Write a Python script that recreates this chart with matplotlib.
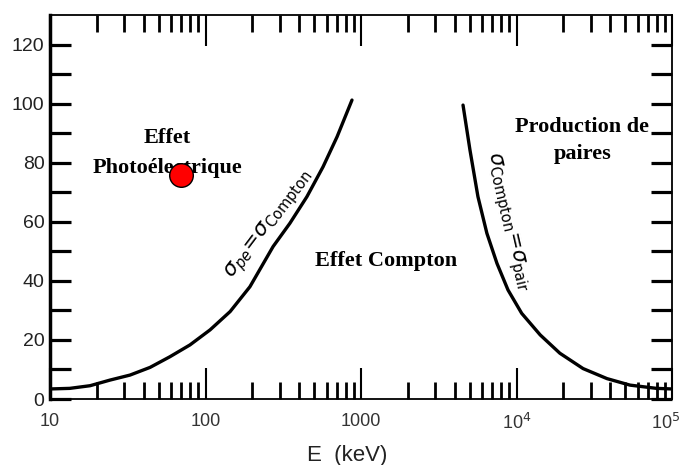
import matplotlib.pyplot as plt
import matplotlib.transforms as mtransforms
from matplotlib.ticker import FixedLocator, LogLocator, NullFormatter

# frontière photoélectrique / Compton
E_pe = [10, 13.4, 18.1, 24.3, 32.7, 44, 59, 79.4, 107, 144, 193,
        272, 349, 449, 570, 702, 875]
y_pe = [3.4, 3.6, 4.5, 6.4, 8.1, 10.7, 14.3, 18.3, 23.4, 29.6, 38,
        51.6, 59.5, 68.5, 78.6, 88.8, 101.2]

# frontière Compton / paires
E_pair = [4530, 5020, 5650, 6450, 7490, 8820, 10800, 14200, 19000,
          26800, 38200, 53700, 79500, 100000]
y_pair = [99.5, 84.3, 68.5, 56.1, 45.9, 36.9, 29, 21.7, 15.5,
          10.3, 6.9, 4.7, 3.6, 3.4]

x_ticks = [10, 100, 1000, 1e4, 1e5]
x_labels = ["10", "100", "1000", r"10$^4$", r"10$^5$"]
y_ticks = [0, 20, 40, 60, 80, 100, 120]

point_E, point_y = 70, 76

fig = plt.figure(figsize=(6.85, 4.65), dpi=100)
ax = fig.add_axes([50 / 685, 66 / 465, 622 / 685, 384 / 465])

ax.plot(E_pe, y_pe, color="black", lw=2.4, solid_capstyle="round",
        solid_joinstyle="round")
ax.plot(E_pair, y_pair, color="black", lw=2.4, solid_capstyle="round",
        solid_joinstyle="round")
ax.plot([point_E], [point_y], "o", ms=17, mfc="red", mec="black", mew=1, zorder=5)

ax.set_xscale("log")
ax.set_xlim(10, 1e5)
ax.set_ylim(0, 130)

ax.set_xticks(x_ticks)
ax.set_xticklabels(x_labels, fontsize=13, family="Liberation Sans", color="#333333")
ax.xaxis.set_minor_locator(LogLocator(base=10, subs=range(2, 10)))
ax.xaxis.set_minor_formatter(NullFormatter())
ax.set_yticks(y_ticks)
ax.set_yticklabels([str(v) for v in y_ticks], fontsize=14, family="Liberation Sans",
                   color="#222222")
ax.yaxis.set_minor_locator(FixedLocator(list(range(10, 130, 20))))

ax.tick_params(axis="x", which="major", direction="in", length=22, width=1.5,
               top=True, bottom=True, pad=10)
ax.tick_params(axis="x", which="minor", direction="in", length=12, width=2,
               top=True, bottom=True)
ax.tick_params(axis="y", which="both", direction="in", length=15, width=2.3,
               left=True, right=True, pad=4)

# décale un peu le dernier label pour qu'il reste dans l'image
last = ax.get_xticklabels()[-1]
shift = mtransforms.ScaledTranslation(-6 / 100, 0, fig.dpi_scale_trans)
last.set_transform(last.get_transform() + shift)

ax.spines["left"].set_linewidth(2.5)
for s in ["bottom", "top", "right"]:
    ax.spines[s].set_linewidth(1.3)

fig.text(347 / 685, 1 - 455 / 465, "E  (keV)", ha="center", va="center",
         fontsize=16, family="Liberation Sans", color="#222222")

serif = dict(family="Liberation Serif", fontweight="bold", fontsize=16,
             ha="center", va="center")
ax.text(57, 88.4, "Effet", **serif)
ax.text(57, 78.2, "Photoélectrique", **serif)
ax.text(1450, 46.7, "Effet Compton", **serif)
ax.text(26500, 92, "Production de", **serif)
ax.text(26500, 83, "paires", **serif)

ax.text(257, 59, r"$\sigma_{pe}\!=\!\sigma_{\mathrm{Compton}}$", rotation=53,
        ha="center", va="center", fontsize=15, family="Liberation Sans",
        rotation_mode="anchor")
ax.text(8700, 60, r"$\sigma_{\mathrm{Compton}}\!=\!\sigma_{\mathrm{pair}}$", rotation=-77,
        ha="center", va="center", fontsize=15, family="Liberation Sans",
        rotation_mode="anchor")

fig.savefig("out.png", dpi=100)
